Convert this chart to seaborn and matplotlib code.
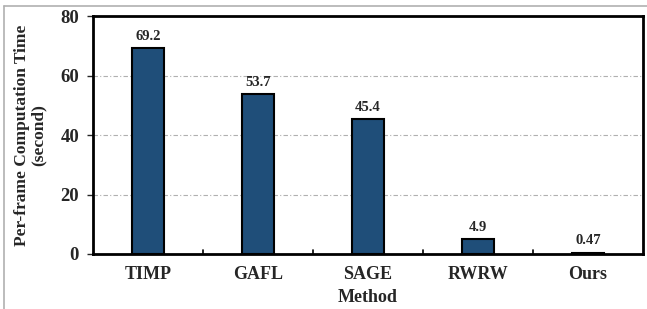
import matplotlib
matplotlib.use("Agg")
import matplotlib.pyplot as plt
import pandas as pd
import seaborn as sns
from matplotlib.lines import Line2D

methods = ["TIMP", "GAFL", "SAGE", "RWRW", "Ours"]
times = [69.2, 53.7, 45.4, 4.9, 0.47]
labels = ["69.2", "53.7", "45.4", "4.9", "0.47"]

df = pd.DataFrame({"Method": methods, "Time": times})

sns.set_style("white")
plt.rcParams["font.family"] = ["Liberation Serif", "DejaVu Serif"]
plt.rcParams["font.weight"] = "bold"

fig = plt.figure(figsize=(6.47, 3.09), dpi=100)
ax = fig.add_axes([0.1437, 0.178, 0.85, 0.770])

sns.barplot(data=df, x="Method", y="Time", color="#1F4E79", width=0.29,
            edgecolor="black", linewidth=1.5, saturation=1, ax=ax, zorder=3)

for i, (v, t) in enumerate(zip(times, labels)):
    ax.text(i, v + 1.8, t, ha="center", va="bottom", fontsize=10.5, fontweight="bold")

ax.set_ylim(0, 80)
ax.set_xlim(-0.5, 4.5)
ax.set_yticks([0, 20, 40, 60, 80])
ax.yaxis.grid(True, color="#B0B0B0", linestyle=(0, (4, 2, 1, 2)), linewidth=0.8, zorder=0)
ax.set_axisbelow(True)

# x ticks between categories pointing in
ax.set_xticks(range(5))
ax.tick_params(axis="x", length=0, labelsize=13, pad=9)
for xb in [0.5, 1.5, 2.5, 3.5]:
    ax.plot([xb, xb], [0, 1.2], color="black", linewidth=1.2, zorder=4, clip_on=False)
ax.tick_params(axis="y", direction="out", length=4, width=1, labelsize=13.5, left=True, pad=6)

for s in ax.spines.values():
    s.set_linewidth(2)
    s.set_color("black")

ax.set_xlabel("Method", fontsize=13, fontweight="bold", labelpad=4)
ax.set_ylabel("Per-frame Computation Time\n(second)", fontsize=12.5, fontweight="bold",
              linespacing=1.0, labelpad=10)

# light frame around the picture
fig.add_artist(Line2D([4 / 647, 4 / 647], [0, 1 - 6 / 309], color="#B0B0B0", linewidth=1.2))
fig.add_artist(Line2D([4 / 647, 1], [1 - 6 / 309, 1 - 6 / 309], color="#B0B0B0", linewidth=1.2))

fig.savefig("out.png", dpi=100)
